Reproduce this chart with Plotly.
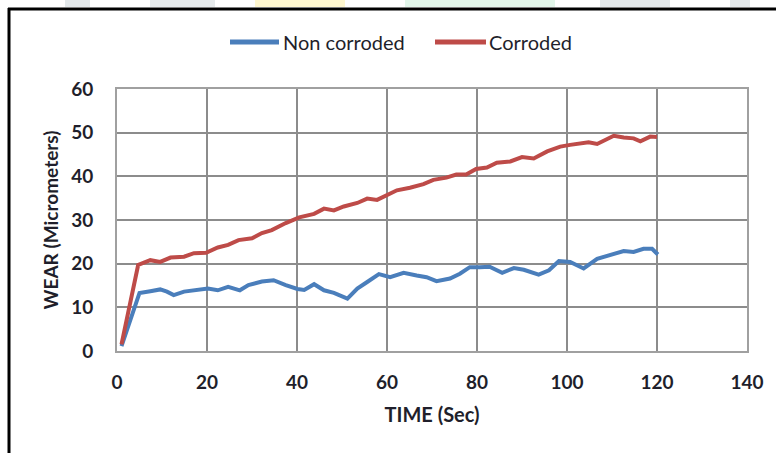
import plotly.graph_objects as go

# ---- data ----
time_non = [1, 5, 7.4, 9.6, 11.1, 12.6, 14.9, 17.9, 20.2, 22.4, 24.7, 27.3, 29.2, 32.2, 34.8,
            37.5, 40.1, 41.6, 43.8, 46, 48.2, 51.2, 53.4, 55.6, 58.2, 60.7, 63.7, 66.6, 68.8,
            71, 74, 76.2, 78.4, 80.6, 82.8, 85.6, 88.2, 90.4, 93.7, 96, 98.2, 100.7, 103.7,
            106.7, 109.6, 112.6, 114.8, 117, 118.9, 120.2]
wear_non = [1.1, 13.3, 13.7, 14.1, 13.6, 12.8, 13.6, 14.1, 14.3, 13.9, 14.7, 13.9, 15.1, 15.9, 16.2,
            15.1, 14.2, 14.0, 15.3, 13.9, 13.3, 12.0, 14.3, 15.8, 17.6, 16.9, 17.9, 17.3, 16.9,
            16.0, 16.6, 17.7, 19.2, 19.2, 19.3, 17.9, 19.0, 18.6, 17.5, 18.5, 20.6, 20.4, 18.9,
            21.1, 22.1, 22.9, 22.7, 23.4, 23.4, 22.1]

time_cor = [1, 4.7, 7.4, 9.6, 11.9, 14.9, 17.1, 19.8, 22.4, 24.7, 27, 30, 32.2, 34.4, 37.5,
            40.5, 43.8, 46, 48.2, 50.4, 53.4, 55.6, 57.8, 60, 62.2, 65.1, 68.1, 70.3, 73.2,
            75.4, 77.6, 79.8, 82.2, 84.4, 87.4, 90, 92.6, 95.6, 98.5, 100.7, 103, 104.8,
            106.7, 109, 110.4, 112.6, 114.8, 116.3, 118.5, 120]
wear_cor = [1.5, 19.7, 20.8, 20.4, 21.4, 21.6, 22.4, 22.5, 23.7, 24.3, 25.4, 25.8, 27.0, 27.7, 29.3,
            30.6, 31.4, 32.6, 32.2, 33.1, 33.9, 34.9, 34.6, 35.6, 36.8, 37.4, 38.2, 39.2, 39.7,
            40.4, 40.4, 41.7, 42.0, 43.1, 43.4, 44.4, 44.1, 45.7, 46.8, 47.2, 47.6, 47.8,
            47.4, 48.7, 49.3, 48.9, 48.7, 48.0, 49.1, 49.0]

series_names = ["Non corroded", "Corroded"]
series_colors = ["#4a7ebb", "#be4b48"]
x_ticks = [0, 20, 40, 60, 80, 100, 120, 140]
y_ticks = [0, 10, 20, 30, 40, 50, 60]

# ---- layout constants (pixels) ----
W, H = 776, 453
L, R, T, B = 117, 29, 89, 102
pw, ph = W - L - R, H - T - B

def px(x):
    return (x - L) / pw

def py(y):
    return (H - B - y) / ph

FONT = "Lato"
TXT = "#1f1f2b"

fig = go.Figure()
for xs, ys, name, col in [(time_non, wear_non, series_names[0], series_colors[0]),
                          (time_cor, wear_cor, series_names[1], series_colors[1])]:
    fig.add_trace(go.Scatter(x=xs, y=ys, mode="lines", name=name,
                             line=dict(color=col, width=4), showlegend=False))

axis_common = dict(showline=True, linecolor="#a0a0a0", linewidth=2, mirror=True,
                   showgrid=True, gridcolor="#8c8c8c", gridwidth=1.5, zeroline=False,
                   ticks="", tickfont=dict(family=FONT, size=19, color=TXT, weight="bold"))

fig.update_xaxes(range=[0, 140], tickvals=x_ticks, ticklabelstandoff=13,
                 title=dict(text="<b>TIME (Sec)</b>", font=dict(family=FONT, size=20, color=TXT),
                            standoff=16),
                 **axis_common)
fig.update_yaxes(range=[0, 60], tickvals=y_ticks, ticklabelstandoff=18,
                 title=dict(text="<b>WEAR (Micrometers)</b>", font=dict(family=FONT, size=19, color=TXT),
                            standoff=8),
                 **axis_common)

shapes = []
# outer frame (top and left black lines)
shapes.append(dict(type="line", xref="paper", yref="paper", x0=px(8), x1=px(W + 5), y0=py(9), y1=py(9),
                   line=dict(color="black", width=3)))
shapes.append(dict(type="line", xref="paper", yref="paper", x0=px(9), x1=px(9), y0=py(8), y1=py(H + 5),
                   line=dict(color="black", width=3)))
# faint watermark fragments above frame
for x0, x1, c in [(65, 90, "#e3e8ea"), (150, 215, "#e6eaec"), (255, 345, "#fff7cf"),
                  (405, 555, "#e2f6ea"), (600, 670, "#e3e8ea"), (730, 750, "#e3e8ea")]:
    shapes.append(dict(type="rect", xref="paper", yref="paper", x0=px(x0), x1=px(x1),
                       y0=py(7), y1=py(-1), line=dict(width=0), fillcolor=c, layer="below"))

# manual legend (line sample + label)
annotations = []
legend_y = 42
for (lx0, lx1, tx), name, col in zip([(230, 279, 281), (435, 486, 487)], series_names, series_colors):
    shapes.append(dict(type="line", xref="paper", yref="paper", x0=px(lx0), x1=px(lx1),
                       y0=py(legend_y), y1=py(legend_y), line=dict(color=col, width=5)))
    annotations.append(dict(xref="paper", yref="paper", x=px(tx), y=py(legend_y), text=name,
                            showarrow=False, xanchor="left", yanchor="middle",
                            font=dict(family=FONT, size=20, color=TXT)))

fig.update_layout(
    width=W, height=H,
    margin=dict(l=L, r=R, t=T, b=B),
    paper_bgcolor="white", plot_bgcolor="white",
    font=dict(family=FONT, color=TXT),
    showlegend=False,
    shapes=shapes,
    annotations=annotations,
)

fig.write_html("out.html")
